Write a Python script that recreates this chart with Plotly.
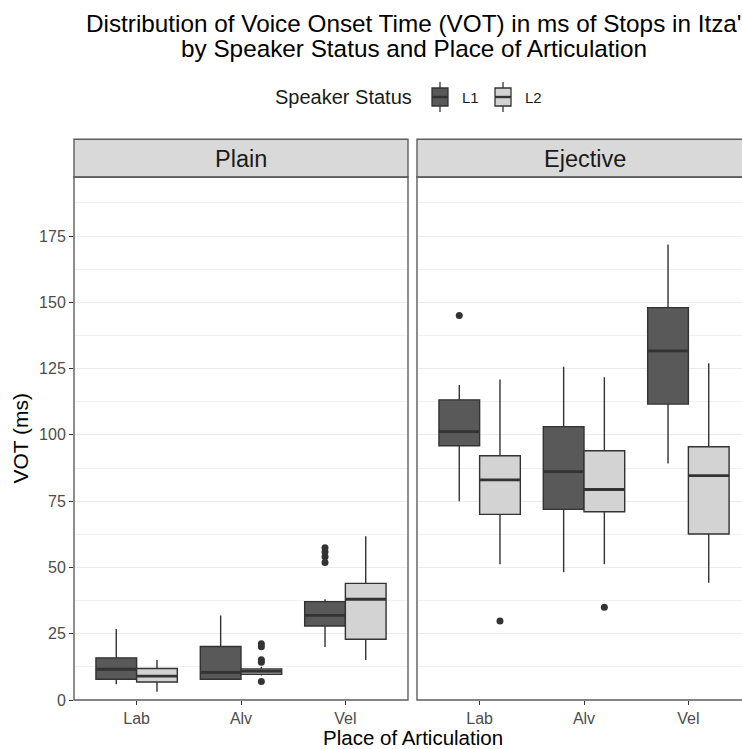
import plotly.graph_objects as go

# ---------------- data ----------------
places = ["Lab", "Alv", "Vel"]
statuses = ["L1", "L2"]
panels = ["Plain", "Ejective"]

# Plain stops
plain_L1_q1 = [7.8, 7.8, 27.9]
plain_L1_med = [11.6, 10.4, 31.9]
plain_L1_q3 = [15.9, 20.2, 37.1]
plain_L1_lo = [5.9, 7.8, 20.0]
plain_L1_hi = [26.8, 31.9, 38.0]
plain_L1_out = {"Vel": [57.4, 55.8, 54.0, 51.9]}

plain_L2_q1 = [6.8, 9.7, 22.9]
plain_L2_med = [9.0, 10.8, 38.0]
plain_L2_q3 = [11.9, 11.7, 44.0]
plain_L2_lo = [3.1, 9.2, 15.1]
plain_L2_hi = [15.1, 12.5, 61.8]
plain_L2_out = {"Alv": [21.2, 20.1, 15.2, 14.2, 7.0]}

# Ejective stops
ej_L1_q1 = [95.9, 71.9, 111.6]
ej_L1_med = [101.2, 86.1, 131.7]
ej_L1_q3 = [113.2, 103.1, 148.0]
ej_L1_lo = [75.0, 48.2, 89.2]
ej_L1_hi = [118.8, 125.7, 171.8]
ej_L1_out = {"Lab": [145.0]}

ej_L2_q1 = [70.0, 71.0, 62.6]
ej_L2_med = [83.0, 79.4, 84.6]
ej_L2_q3 = [92.1, 94.0, 95.5]
ej_L2_lo = [51.2, 51.2, 44.2]
ej_L2_hi = [120.9, 121.7, 127.0]
ej_L2_out = {"Lab": [29.8], "Alv": [35.0]}

y_ticks = [0, 25, 50, 75, 100, 125, 150, 175]

# ---------------- styling ----------------
W, H = 742, 749
L, R, T, B = 74, 0, 177, 49
plot_w = W - L - R
plot_h = H - T - B
plain_px = (74, 408)
ej_px = (417, 752)
unit_px = (plain_px[1] - plain_px[0]) / 3.2
ej_range_end = -0.6 + (W - ej_px[0]) / unit_px

def px2x(px):
    return (px - L) / plot_w

def py2y(py):
    return 1 + (T - py) / plot_h

fills = {"L1": "#595959", "L2": "#D3D3D3"}
edge = "#333333"
FONT = "Liberation Sans, Arial, Helvetica, sans-serif"
half = 0.195
offsets = {"L1": -half, "L2": half}

data = {
    ("Plain", "L1"): (plain_L1_q1, plain_L1_med, plain_L1_q3, plain_L1_lo, plain_L1_hi, plain_L1_out),
    ("Plain", "L2"): (plain_L2_q1, plain_L2_med, plain_L2_q3, plain_L2_lo, plain_L2_hi, plain_L2_out),
    ("Ejective", "L1"): (ej_L1_q1, ej_L1_med, ej_L1_q3, ej_L1_lo, ej_L1_hi, ej_L1_out),
    ("Ejective", "L2"): (ej_L2_q1, ej_L2_med, ej_L2_q3, ej_L2_lo, ej_L2_hi, ej_L2_out),
}

fig = go.Figure()
axes = {"Plain": ("x", "y"), "Ejective": ("x2", "y2")}

for panel in panels:
    xa, ya = axes[panel]
    for st in statuses:
        q1, med, q3, lo, hi, out = data[(panel, st)]
        xs = [i + offsets[st] for i in range(len(places))]
        fig.add_trace(go.Box(
            x=xs, q1=q1, median=med, q3=q3, lowerfence=lo, upperfence=hi,
            width=2 * half, fillcolor=fills[st],
            line=dict(color=edge, width=1.4), whiskerwidth=0,
            boxpoints=False, name=st, legendgroup=st,
            showlegend=False, xaxis=xa, yaxis=ya, hoverinfo="skip",
        ))
        mx, my = [], []
        for x, m in zip(xs, med):
            mx += [x - half, x + half, None]
            my += [m, m, None]
        fig.add_trace(go.Scatter(
            x=mx, y=my, mode="lines", line=dict(color=edge, width=2.8),
            showlegend=False, xaxis=xa, yaxis=ya, hoverinfo="skip",
        ))
        ox, oy = [], []
        for p, vals in out.items():
            i = places.index(p)
            ox += [i + offsets[st]] * len(vals)
            oy += vals
        if ox:
            fig.add_trace(go.Scatter(
                x=ox, y=oy, mode="markers",
                marker=dict(color=edge, size=7, line=dict(width=0)),
                showlegend=False, xaxis=xa, yaxis=ya, hoverinfo="skip",
            ))

y_top = (700 - 177) / ((700 - 236) / 175.0)

common_x = dict(
    tickmode="array", tickvals=list(range(len(places))), ticktext=places,
    ticks="outside", ticklen=4, tickcolor=edge, tickwidth=1,
    showgrid=False, zeroline=False, showline=False,
    tickfont=dict(family=FONT, size=16, color="#4D4D4D"),
)
common_y = dict(
    range=[0, y_top], tickmode="array", tickvals=y_ticks,
    showgrid=True, gridcolor="#EBEBEB", gridwidth=1.1, zeroline=False, showline=False,
    minor=dict(dtick=12.5, tick0=12.5, showgrid=True, gridcolor="#F0F0F0", gridwidth=0.6),
)

fig.update_layout(
    width=W, height=H,
    margin=dict(l=L, r=R, t=T, b=B, pad=0),
    paper_bgcolor="white", plot_bgcolor="white",
    font=dict(family=FONT, color="#1A1A1A"),
    xaxis=dict(domain=[0, px2x(plain_px[1])], range=[-0.6, 2.6], anchor="y", **common_x),
    xaxis2=dict(domain=[px2x(ej_px[0]), 1], range=[-0.6, ej_range_end], anchor="y2", **common_x),
    yaxis=dict(domain=[0, 1], anchor="x", ticks="outside", ticklen=4, tickcolor=edge,
               tickfont=dict(family=FONT, size=16, color="#4D4D4D"), **common_y),
    yaxis2=dict(domain=[0, 1], anchor="x2", matches="y", showticklabels=False, ticks="", **common_y),
    showlegend=False,
)

shapes = []
border = dict(color="#5E5E5E", width=1.4)
# strips and panel borders
for (a, b) in (plain_px, ej_px):
    shapes.append(dict(type="rect", xref="paper", yref="paper",
                       x0=px2x(a), x1=px2x(b), y0=py2y(177.3), y1=py2y(139.3),
                       fillcolor="#D9D9D9", line=border, layer="above"))
    shapes.append(dict(type="rect", xref="paper", yref="paper",
                       x0=px2x(a), x1=px2x(b), y0=0, y1=1,
                       fillcolor="rgba(0,0,0,0)", line=border, layer="above"))

# legend keys (drawn as small boxplot glyphs)
legend_cy = 97
key_centers = {"L1": 440, "L2": 503}
for st in statuses:
    cx = key_centers[st]
    shapes.append(dict(type="line", xref="paper", yref="paper",
                       x0=px2x(cx), x1=px2x(cx), y0=py2y(legend_cy - 15), y1=py2y(legend_cy + 15),
                       line=dict(color=edge, width=1.3)))
    shapes.append(dict(type="rect", xref="paper", yref="paper",
                       x0=px2x(cx - 8), x1=px2x(cx + 8), y0=py2y(legend_cy + 9), y1=py2y(legend_cy - 9),
                       fillcolor=fills[st], line=dict(color=edge, width=1.3)))
    shapes.append(dict(type="line", xref="paper", yref="paper",
                       x0=px2x(cx - 8), x1=px2x(cx + 8), y0=py2y(legend_cy), y1=py2y(legend_cy),
                       line=dict(color=edge, width=2.4)))
fig.update_layout(shapes=shapes)

ann = []
ann.append(dict(text="Plain", x=px2x(sum(plain_px) / 2), y=py2y(158.5), xref="paper", yref="paper",
                showarrow=False, font=dict(family=FONT, size=23.5, color="#1A1A1A"),
                xanchor="center", yanchor="middle"))
ann.append(dict(text="Ejective", x=px2x(sum(ej_px) / 2), y=py2y(158.5), xref="paper", yref="paper",
                showarrow=False, font=dict(family=FONT, size=23.5, color="#1A1A1A"),
                xanchor="center", yanchor="middle"))
ann.append(dict(text="Distribution of Voice Onset Time (VOT) in ms of Stops in Itza'",
                x=px2x(414), y=py2y(24), xref="paper", yref="paper", showarrow=False,
                font=dict(family=FONT, size=24.3, color="#000000"), xanchor="center", yanchor="middle"))
ann.append(dict(text="by Speaker Status and Place of Articulation",
                x=px2x(414), y=py2y(49), xref="paper", yref="paper", showarrow=False,
                font=dict(family=FONT, size=24.3, color="#000000"), xanchor="center", yanchor="middle"))
ann.append(dict(text="Speaker Status", x=px2x(414), y=py2y(legend_cy), xref="paper", yref="paper",
                showarrow=False, font=dict(family=FONT, size=20, color="#1A1A1A"),
                xanchor="right", yanchor="middle"))
for st in statuses:
    ann.append(dict(text=st, x=px2x(key_centers[st] + 20), y=py2y(legend_cy), xref="paper", yref="paper",
                    showarrow=False, font=dict(family=FONT, size=15, color="#1A1A1A"),
                    xanchor="left", yanchor="middle"))
ann.append(dict(text="Place of Articulation", x=px2x(413), y=py2y(737.5), xref="paper", yref="paper",
                showarrow=False, font=dict(family=FONT, size=20.5, color="#000000"),
                xanchor="center", yanchor="middle"))
ann.append(dict(text="VOT (ms)", x=px2x(20), y=0.5, xref="paper", yref="paper",
                showarrow=False, textangle=-90, font=dict(family=FONT, size=21, color="#000000"),
                xanchor="center", yanchor="middle"))
fig.update_layout(annotations=ann)

fig.write_html("out.html")
